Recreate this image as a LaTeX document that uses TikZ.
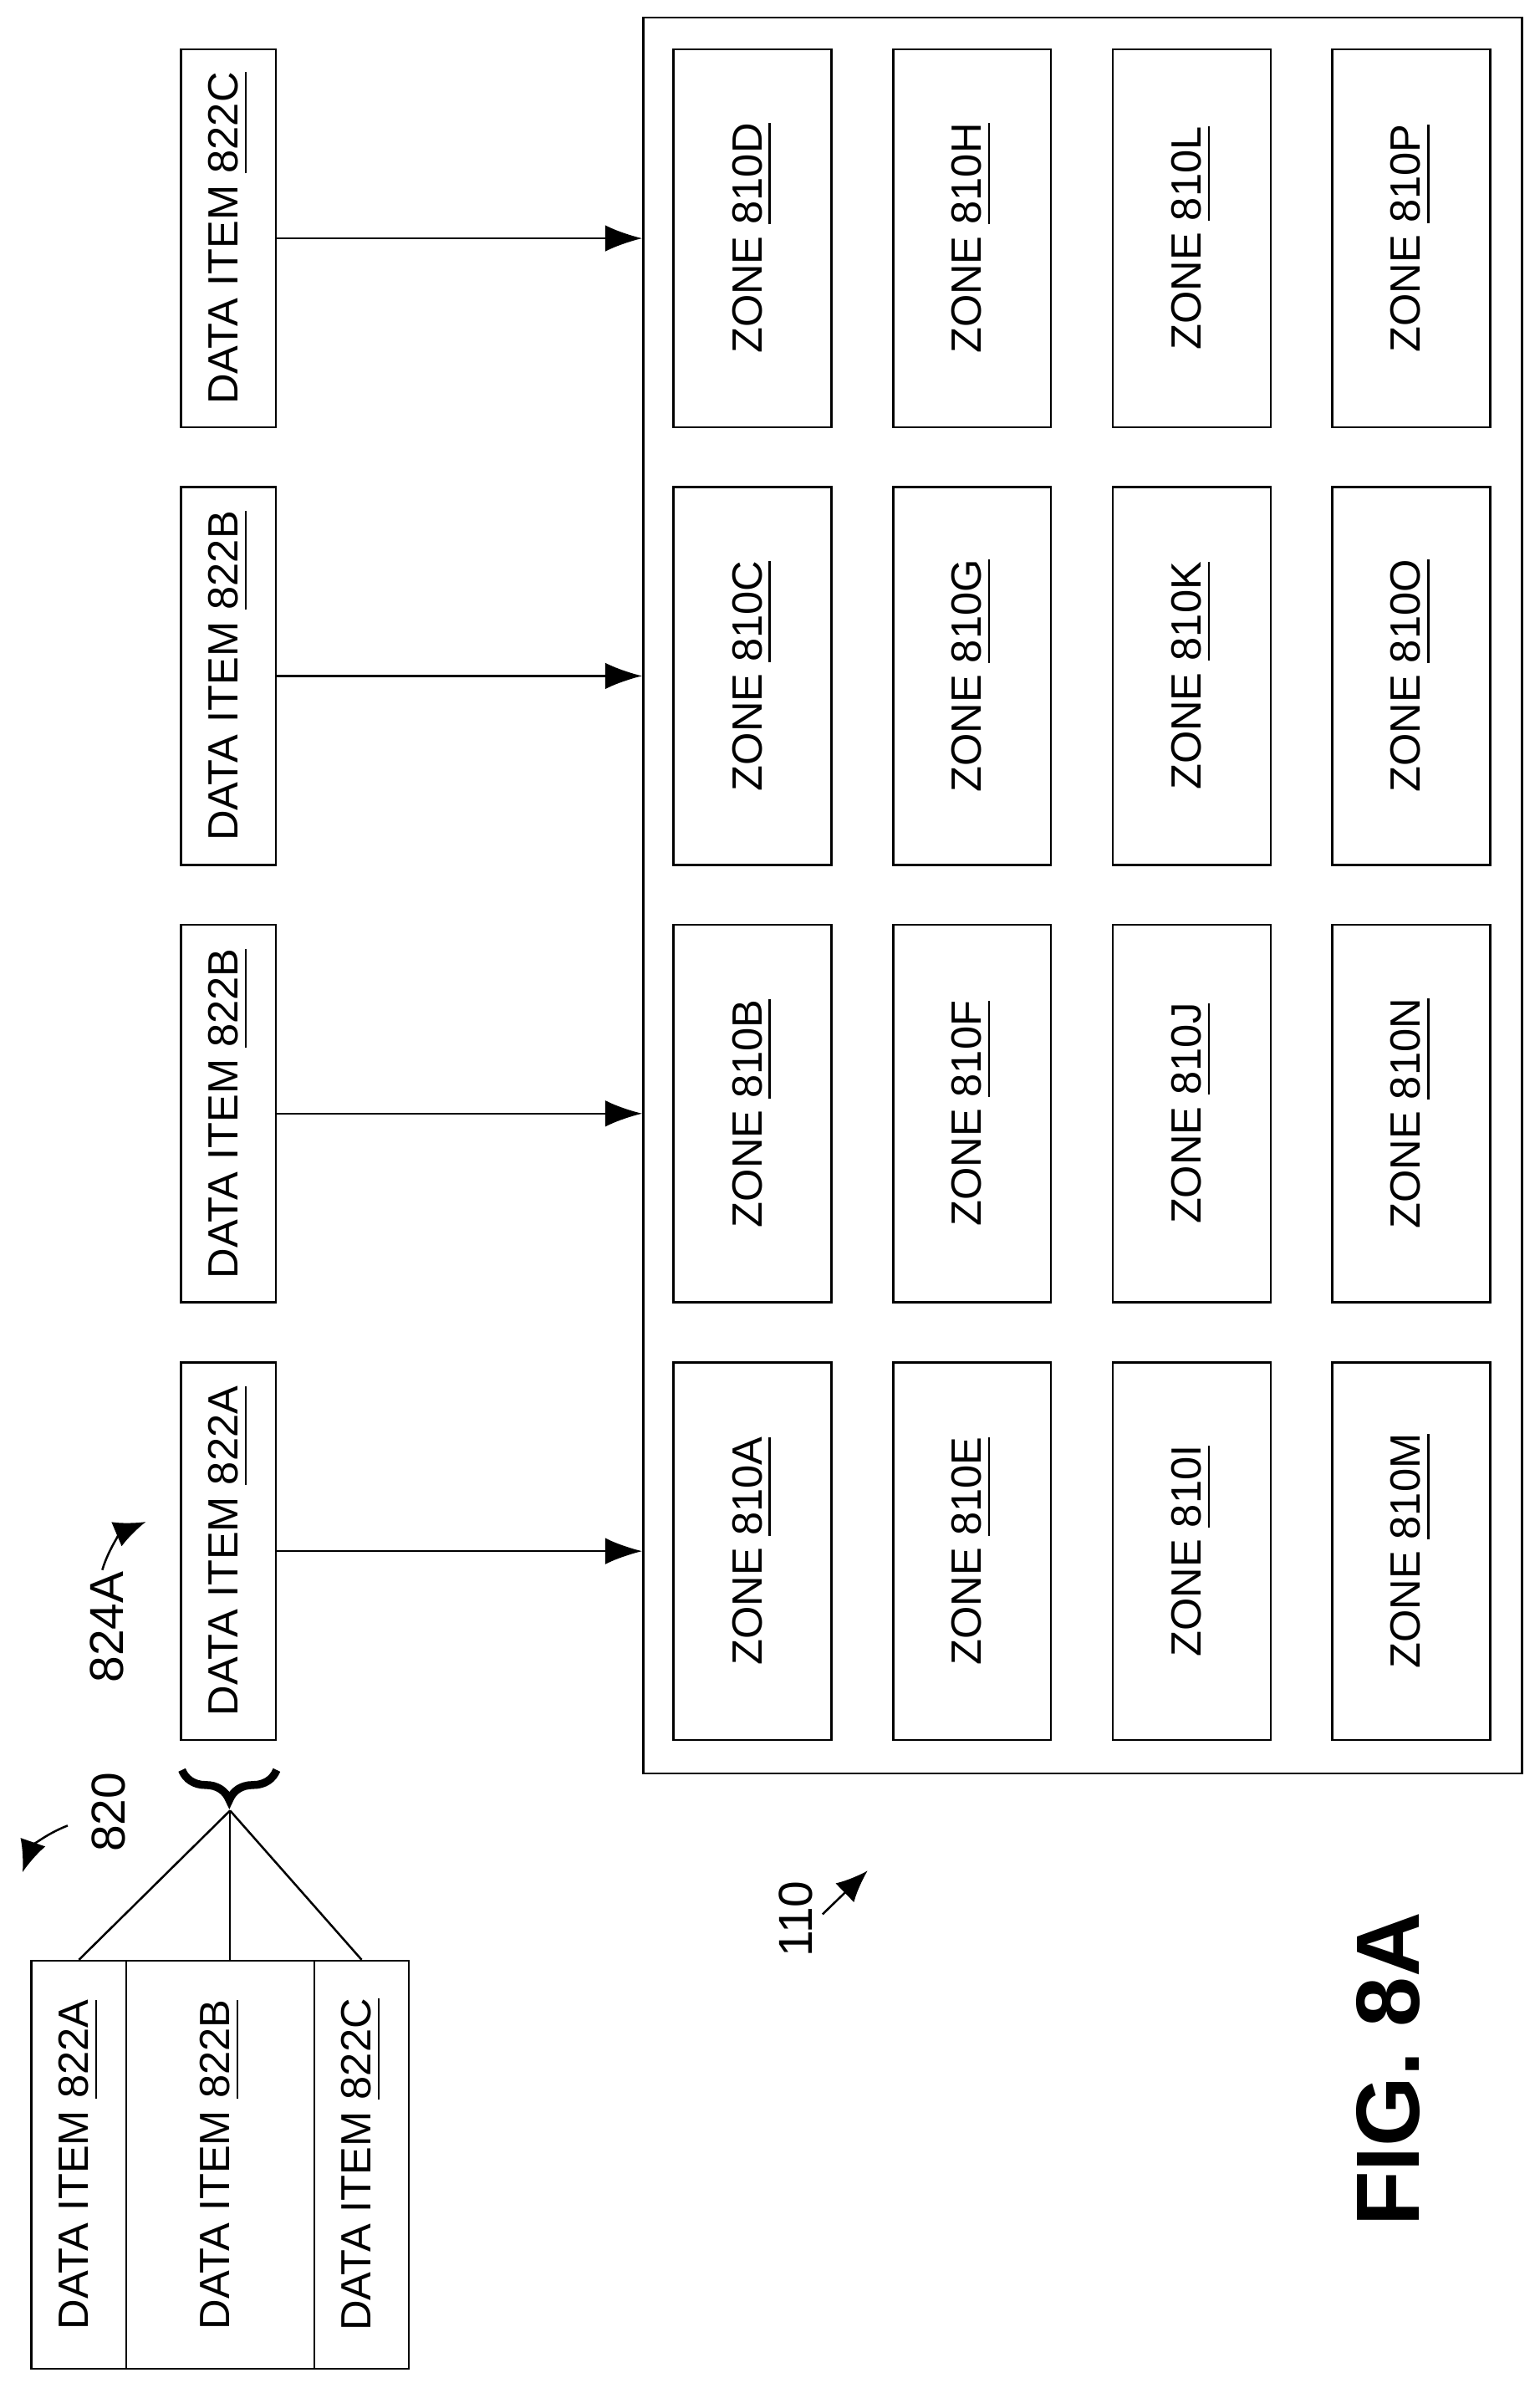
\documentclass[tikz,border=0pt]{standalone}
\usepackage{fontspec}
\setmainfont{Liberation Sans}
\usetikzlibrary{arrows.meta, positioning, calc, decorations.pathreplacing}

\begin{document}
\begin{tikzpicture}[
    x=0.01cm, y=-0.01cm,
    zonebox/.style={
        draw, rectangle, rotate=90, align=center, font=\fontsize{8}{9}\selectfont,
        minimum width=2.51cm, minimum height=1.05cm, inner sep=0pt
    },
    itembox/.style={
        draw, rectangle, rotate=90, align=center, font=\fontsize{8}{9}\selectfont,
        minimum height=0.63cm, inner sep=0pt
    },
    line/.style={draw, -{Latex[length=7pt,width=5pt]}, thin},
    refarrow/.style={draw, -{Latex[length=6pt,width=5pt]}, thin}
]
    \useasboundingbox (0,0) rectangle (1024,1588);

    % storage 110
    \node[draw, rectangle, minimum width=5.84cm, minimum height=11.67cm, inner sep=0pt] (Storage) at (720,595.5) {};
    \foreach \cx/\la/\lb/\lc/\ld [count=\c] in {500.5/D/C/B/A, 646.5/H/G/F/E, 792.5/L/K/J/I, 938.5/P/O/N/M}{
        \node[zonebox] (Z\c a) at (\cx,158.5) {ZONE \underline{810\la}};
        \node[zonebox] (Z\c b) at (\cx,449.5) {ZONE \underline{810\lb}};
        \node[zonebox] (Z\c c) at (\cx,740.5) {ZONE \underline{810\lc}};
        \node[zonebox] (Z\c d) at (\cx,1031.5) {ZONE \underline{810\ld}};
    }

    % data items being written
    \node[itembox, minimum width=2.51cm] (ItemC) at (152,158.5) {DATA ITEM \underline{822C}};
    \node[itembox, minimum width=2.51cm] (ItemB2) at (152,449.5) {DATA ITEM \underline{822B}};
    \node[itembox, minimum width=2.51cm] (ItemB1) at (152,740.5) {DATA ITEM \underline{822B}};
    \node[itembox, minimum width=2.51cm] (ItemA) at (152,1031.5) {DATA ITEM \underline{822A}};

    \draw[line] (ItemC.south) -- (Storage.west |- ItemC.south);
    \draw[line] (ItemB2.south) -- (Storage.west |- ItemB2.south);
    \draw[line] (ItemB1.south) -- (Storage.west |- ItemB1.south);
    \draw[line] (ItemA.south) -- (Storage.west |- ItemA.south);

    % data 820
    \node[itembox, minimum width=2.71cm] (StackA) at (52.5,1439.5) {DATA ITEM \underline{822A}};
    \node[itembox, minimum width=2.71cm, minimum height=1.25cm] (StackB) at (146.5,1439.5) {DATA ITEM \underline{822B}};
    \node[itembox, minimum width=2.71cm] (StackC) at (240.5,1439.5) {DATA ITEM \underline{822C}};

    \coordinate (BraceL) at (121,1177);
    \coordinate (BraceR) at (184,1177);
    \draw[decorate, decoration={brace, amplitude=0.2cm}, line width=1.5pt] (BraceR) -- (BraceL);
    \coordinate (BraceTip) at (153,1204);
    \draw (BraceTip) -- (StackA.east);
    \draw (BraceTip) -- (BraceTip |- StackB.east);
    \draw (BraceTip) -- (StackC.east);

    % reference numerals
    \node[rotate=90, font=\fontsize{9}{10}\selectfont] (L820) at (72,1205) {820};
    \coordinate (A820) at (15,1245);
    \draw[refarrow] (45,1214) to[bend right=25] (A820);
    \node[rotate=90, font=\fontsize{9}{10}\selectfont] (L824) at (71,1082) {824A};
    \coordinate (A824) at (97,1012);
    \draw[refarrow] (68,1044) to[bend left=25] (A824);
    \node[rotate=90, font=\fontsize{9}{10}\selectfont] (L110) at (529,1276) {110};
    \coordinate (A110) at (577,1244);
    \draw[refarrow] (547,1273) -- (A110);

    \node[rotate=90, font=\bfseries\fontsize{17}{20}\selectfont] (Fig) at (923,1376) {FIG. 8A};
\end{tikzpicture}
\end{document}
